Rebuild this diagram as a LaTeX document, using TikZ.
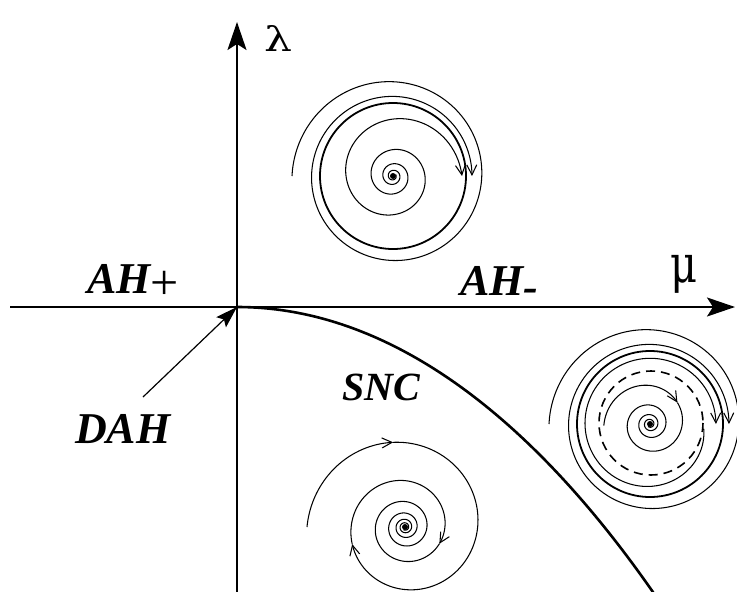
\documentclass[tikz,border=0pt]{standalone}
\usepackage{fontspec}
\usepackage{graphicx}
\setmainfont{Liberation Serif}
\newfontfamily\grkfont{DejaVu Serif}
\usetikzlibrary{arrows.meta}
\begin{document}
\begin{tikzpicture}[x=1pt,y=-1pt,
  axis/.style={line width=2pt,-{Stealth[length=28pt,width=19pt,inset=6pt]}},
  trail/.style={line width=1.05pt,line join=round},
  trailtip/.style={trail,-{Straight Barb[length=10pt,width=10pt]}},
  cycle/.style={line width=1.8pt},
  unstable/.style={line width=1.6pt,dash pattern=on 9pt off 6pt},
  lab/.style={inner sep=0pt,anchor=base west,font=\fontsize{44}{48}\selectfont\bfseries\itshape},
  greek/.style={inner sep=0pt,font=\fontsize{40}{44}\selectfont\grkfont}]
\useasboundingbox (0,0) rectangle (737,592);
\clip (0,0) rectangle (737,592);

% axes
\coordinate (O) at (237,307);
\coordinate (xs) at (10,307);
\coordinate (xe) at (735,307);
\coordinate (ys) at (237,595);
\coordinate (ye) at (237,22);
\draw[axis] (xs) -- (xe);
\draw[axis] (ys) -- (ye);
\node[greek] (lam) at (278,38) {\resizebox*{28pt}{26pt}{λ}};
\node[greek] (mu) at (684,274) {\resizebox*{27pt}{38pt}{μ}};

% saddle-node curve of cycles
\coordinate (snend) at (655,595);
\draw[line width=2.6pt] (O) .. controls (377,307) and (520,400) .. (snend);

% labels
\node[lab] (ahp) at (87,293) {AH\raisebox{-6pt}{\mdseries\upshape\fontsize{50}{54}\selectfont +}};
\node[lab] (ahm) at (460,295) {AH\raisebox{-6pt}{-}};
\node[lab] (dah) at (75,443) {DAH};
\node[lab,font=\fontsize{40}{44}\selectfont\bfseries\itshape] (snc) at (342,400) {SNC};
\coordinate (dahtail) at (143,397);
\draw[line width=1.2pt,-{Stealth[length=22pt,width=14pt,inset=4pt]}] (dahtail) -- (O);

% radius of the outer trajectory winding onto a cycle
\tikzset{declare function={ro(\t)=79+22*((720-\t)/540)^2;}}

% upper phase portrait: stable cycle
\begin{scope}[shift={(393,176)}]
  \fill (0,0) circle (3);
  \draw[cycle] (0,0) circle (73);
  \draw[trailtip] plot[domain=-1470:0,samples=400,smooth,variable=\t]
    ({69*exp(0.00213*\t)*cos(\t)},{69*exp(0.00213*\t)*sin(\t)});
  \draw[trailtip] plot[domain=180:720,samples=150,smooth,variable=\t]
    ({ro(\t)*cos(\t)},{ro(\t)*sin(\t)});
\end{scope}

% right phase portrait: stable and unstable cycles
\begin{scope}[shift={(650,424)}]
  \fill (0,0) circle (3);
  \draw[cycle] (0,0) circle (73);
  \draw[unstable] (1,-1) circle (52);
  \draw[trailtip] plot[domain=180:720,samples=150,smooth,variable=\t]
    ({ro(\t)*cos(\t)},{ro(\t)*sin(\t)});
  \draw[trailtip] plot[domain=5:360,samples=100,smooth,variable=\t]
    ({(66-13*exp(-\t/70))*cos(\t)},{(66-13*exp(-\t/70))*sin(\t)});
  \draw[trailtip] plot[domain=178:322,samples=60,smooth,variable=\t]
    ({46*exp(-0.00197*(\t-180))*cos(\t)},{46*exp(-0.00197*(\t-180))*sin(\t)});
  \draw[trail] plot[domain=322:1566,samples=400,smooth,variable=\t]
    ({46*exp(-0.00197*(\t-180))*cos(\t)},{46*exp(-0.00197*(\t-180))*sin(\t)});
\end{scope}

% lower phase portrait: stable focus
\begin{scope}[shift={(405,527)}]
  \fill (0,0) circle (3);
  \draw[trailtip] plot[domain=180:262,samples=40,smooth,variable=\t]
    ({98*exp(-0.00166*(\t-180))*cos(\t)},{98*exp(-0.00166*(\t-180))*sin(\t)});
  \draw[trailtip] plot[domain=262:522,samples=100,smooth,variable=\t]
    ({98*exp(-0.00166*(\t-180))*cos(\t)},{98*exp(-0.00166*(\t-180))*sin(\t)});
  \draw[trailtip] plot[domain=522:746,samples=100,smooth,variable=\t]
    ({98*exp(-0.00166*(\t-180))*cos(\t)},{98*exp(-0.00166*(\t-180))*sin(\t)});
  \draw[trail] plot[domain=746:2280,samples=500,smooth,variable=\t]
    ({98*exp(-0.00166*(\t-180))*cos(\t)},{98*exp(-0.00166*(\t-180))*sin(\t)});
\end{scope}
\end{tikzpicture}
\end{document}
